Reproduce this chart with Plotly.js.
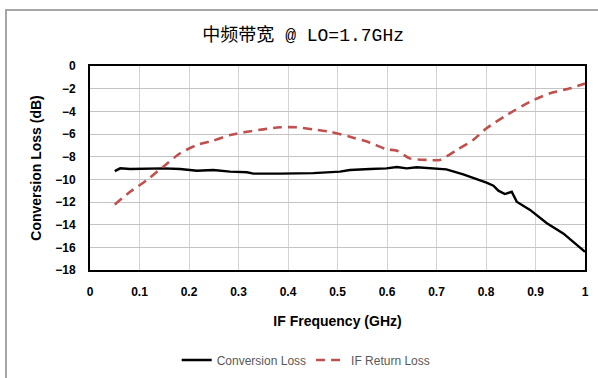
<!DOCTYPE html>
<html>
<head>
<meta charset="utf-8">
<script src="https://cdn.plot.ly/plotly-3.0.1.min.js"></script>
<style>
html,body{margin:0;padding:0;background:#fff;}
#wrap{position:relative;width:598px;height:378px;overflow:hidden;}
#chart{position:absolute;left:0;top:0;width:598px;height:378px;}
#frame{position:absolute;left:5px;top:9px;width:620px;height:400px;border-left:2px solid #a6a6a6;border-top:2px solid #a6a6a6;pointer-events:none;}
</style>
</head>
<body>
<div id="wrap"><div id="chart"></div><div id="frame"></div></div>
<script>
// Conversion Loss (black, solid)
const clFreq = [0.05,0.061,0.081,0.115,0.148,0.182,0.216,0.249,0.283,0.317,0.33,0.384,0.451,0.505,0.525,0.566,0.599,0.62,0.64,0.66,0.70,0.72,0.754,0.781,0.801,0.815,0.825,0.838,0.852,0.862,0.889,0.923,0.956,1.0];
const clLoss = [-9.27,-9.03,-9.09,-9.03,-9.03,-9.09,-9.24,-9.18,-9.32,-9.38,-9.5,-9.5,-9.45,-9.32,-9.18,-9.09,-9.03,-8.91,-9.03,-8.94,-9.03,-9.12,-9.56,-9.97,-10.3,-10.56,-11.0,-11.3,-11.1,-11.97,-12.7,-13.88,-14.77,-16.4];
// IF Return Loss (red, dashed)
const rlFreq = [0.05,0.081,0.115,0.148,0.182,0.216,0.249,0.283,0.317,0.35,0.384,0.417,0.451,0.485,0.525,0.566,0.599,0.62,0.646,0.68,0.707,0.741,0.774,0.801,0.842,0.889,0.929,0.97,1.0];
const rlLoss = [-12.21,-11.1,-10.06,-8.88,-7.7,-6.97,-6.59,-6.09,-5.8,-5.59,-5.41,-5.41,-5.59,-5.8,-6.24,-6.77,-7.35,-7.47,-8.15,-8.29,-8.29,-7.41,-6.53,-5.5,-4.32,-3.15,-2.41,-1.97,-1.55];
const xTicks = [0,0.1,0.2,0.3,0.4,0.5,0.6,0.7,0.8,0.9,1];
const xTickText = ['0','0.1','0.2','0.3','0.4','0.5','0.6','0.7','0.8','0.9','1'];
const yTicks = [0,-2,-4,-6,-8,-10,-12,-14,-16,-18];
const seriesNames = ['Conversion Loss','IF Return Loss'];
const titleText = '中频带宽 @ LO=1.7GHz';
const xTitle = 'IF Frequency (GHz)';
const yTitle = 'Conversion Loss (dB)';

const traces = [
  {x: clFreq, y: clLoss, name: seriesNames[0], mode: 'lines', line: {color: '#000000', width: 2.4}},
  {x: rlFreq, y: rlLoss, name: seriesNames[1], mode: 'lines', line: {color: '#C0504D', width: 2.6, dash: '9px,6px', shape: 'spline', smoothing: 0.6}}
];
const tickFont = {family: 'Liberation Sans, Arial, sans-serif', size: 12, color: '#000', weight: 'bold'};
const layout = {
  width: 598, height: 378,
  margin: {l: 90, r: 13, t: 66, b: 108},
  paper_bgcolor: '#fff', plot_bgcolor: '#fff',
  title: {text: titleText, x: 0.507, xref: 'container', xanchor: 'center', y: 1 - 35/378, yref: 'container', yanchor: 'middle',
          font: {family: 'Liberation Mono, Noto Sans CJK SC, monospace', size: 18, color: '#000'}},
  xaxis: {range: [0, 1], tickvals: xTicks, ticktext: xTickText, showgrid: true, gridcolor: '#d4d4d4', gridwidth: 1,
          zeroline: false, showline: true, linecolor: '#000', linewidth: 2, mirror: true, ticks: '', ticklabelstandoff: 10,
          tickfont: tickFont, fixedrange: true,
          title: {text: xTitle, standoff: 18, font: {family: 'Liberation Sans, Arial, sans-serif', size: 14, color: '#000', weight: 'bold'}}},
  yaxis: {range: [-18, 0], tickvals: yTicks, showgrid: true, gridcolor: '#c4c4c4', gridwidth: 1,
          zeroline: false, showline: true, linecolor: '#000', linewidth: 2, mirror: true, ticks: '', ticklabelstandoff: 10,
          tickfont: tickFont, fixedrange: true,
          title: {text: yTitle, standoff: 10, font: {family: 'Liberation Sans, Arial, sans-serif', size: 14, color: '#000', weight: 'bold'}}},
  showlegend: true,
  legend: {orientation: 'h', x: 0.512, xref: 'container', xanchor: 'center', y: 1 - 360/378, yref: 'container', yanchor: 'middle',
           font: {family: 'Liberation Sans Narrow, Liberation Sans, Arial, sans-serif', size: 12, color: '#595959'},
           bgcolor: 'rgba(0,0,0,0)', itemwidth: 30, tracegroupgap: 0}
};
Plotly.newPlot('chart', traces, layout, {staticPlot: true, displayModeBar: false});
</script>
</body>
</html>
